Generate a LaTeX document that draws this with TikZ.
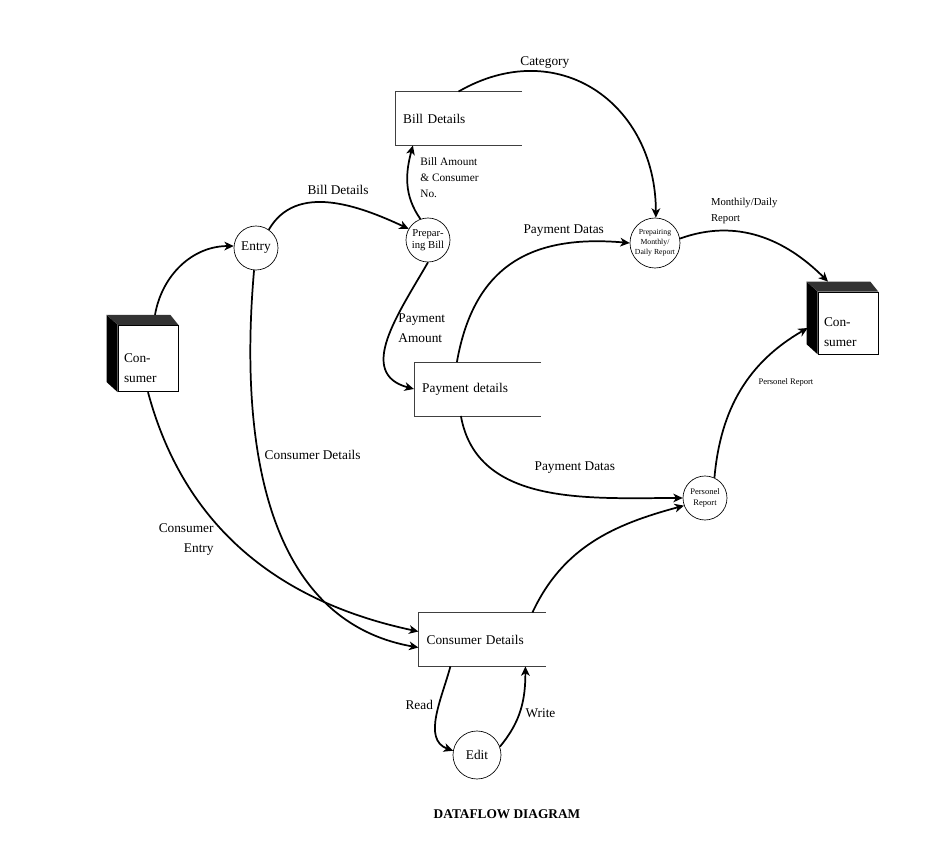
\documentclass[tikz,border=0pt]{standalone}
\usepackage{fontspec}
\setmainfont{Liberation Serif}
\usetikzlibrary{arrows.meta,positioning,calc}

\begin{document}
\begin{tikzpicture}[
    x=0.75pt, y=0.75pt,
    proc/.style={draw, circle, line width=0.5pt, inner sep=0pt, minimum size=33pt, align=center, font=\fontsize{10pt}{12pt}\selectfont},
    store/.style={minimum width=95pt, minimum height=40pt, inner sep=0pt, text width=83pt, align=left, font=\fontsize{10pt}{12pt}\selectfont},
    storeline/.style={line width=0.5pt, color=black!75},
    entity/.style={draw, line width=0.5pt, minimum width=45pt, minimum height=50pt, text width=36pt, text height=21pt, align=left, font=\fontsize{10pt}{15pt}\selectfont},
    flow/.style={-{Stealth[length=7pt,width=6.5pt,inset=2pt]}, line width=1.3pt},
    lbl/.style={font=\fontsize{10pt}{12pt}\selectfont, align=left, inner sep=1pt}
  ]
    \useasboundingbox (0,0) rectangle (939,853);

    % external entities
    \node[entity] (cons1) at (148,494.5) {Con-\\sumer};
    \node[entity, minimum height=46.5pt] (cons2) at (848,530) {Con-\\sumer};
    \foreach \ent in {cons1,cons2} {
      \fill[black] ($(\ent.north west)+(-11,10)$) -- (\ent.north west) -- (\ent.south west) -- ($(\ent.south west)+(-11,10)$) -- cycle;
      \fill[black!80] ($(\ent.north west)+(-11,10)$) -- ($(\ent.north east)+(-8,10)$) -- (\ent.north east) -- (\ent.north west) -- cycle;
    }

    % processes
    \node[proc] (entry) at (256,605) {Entry};
    \node[proc, font=\fontsize{8pt}{9pt}\selectfont] (prep) at (428,613) {Prepar-\\ing Bill};
    \node[proc, minimum size=37.5pt, font=\fontsize{5.8pt}{7.5pt}\selectfont] (mon) at (655,610) {Prepairing\\Monthly/\\Daily Report};
    \node[proc, font=\fontsize{6.4pt}{8.5pt}\selectfont] (pers) at (705,355) {Personel\\Report};
    \node[proc, minimum size=36pt] (edit) at (477,98) {Edit};

    % data stores
    \node[store] (bd) at (458.5,734.5) {Bill Details};
    \node[store] (pd) at (477.5,464) {Payment details};
    \node[store] (cd) at (482,213.5) {Consumer Details};
    \foreach \st in {bd,pd,cd}
      \draw[storeline] (\st.north east) -- (\st.north west) -- (\st.south west) -- (\st.south east);

    % flows
    \draw[flow] ($(cons1.north)+(7,10)$) to[out=80,in=180] (entry.175);
    \draw[flow] (entry.55) to[out=60,in=155] node[lbl, above=5pt, pos=0.55]{Bill Details} (prep.150);
    \draw[flow] (prep.110) to[out=125,in=-105] node[lbl, right=8pt, pos=0.58, font=\fontsize{8.5pt}{12pt}\selectfont]{Bill Amount\\\& Consumer\\No.} ($(bd.south west)+(18,0)$);
    \draw[flow] (bd.north) to[out=30,in=90,looseness=1.25] node[lbl, above=1pt, pos=0.3]{Category} (mon.88);
    \draw[flow] (prep.south) to[out=-120,in=165,looseness=1.2] node[lbl, right=3pt, pos=0.42, font=\fontsize{10pt}{15pt}\selectfont]{Payment\\Amount} (pd.west);
    \draw[flow] ($(pd.north west)+(43,0)$) to[out=80,in=175,looseness=1.2] node[lbl, above=4pt, pos=0.75]{Payment Datas} (mon.west);
    \draw[flow] (mon.10) to[out=20,in=135] node[lbl, above=5pt, pos=0.4, font=\fontsize{8pt}{12pt}\selectfont]{Monthily/Daily\\Report} ($(cons2.north)+(-20,10)$);
    \draw[flow] ($(pd.south west)+(47,0)$) to[out=-80,in=180] node[lbl, above=15pt, pos=0.62]{Payment Datas} (pers.west);
    \draw[flow] (pers.65) to[out=85,in=210] node[lbl, right=8pt, pos=0.55, font=\fontsize{6.4pt}{8pt}\selectfont]{Personel Report} ($(cons2.west)+(-10,-5)$);
    \draw[flow] ($(cd.north west)+(114,0)$) to[out=65,in=195] (pers.200);
    \draw[flow] (cons1.south) to[out=-75,in=168] node[lbl, left=12pt, align=right, pos=0.45, font=\fontsize{10pt}{15pt}\selectfont]{Consumer\\Entry} ($(cd.west)+(0,8)$);
    \draw[flow] (entry.265) to[out=-95,in=170] node[lbl, right=3pt, pos=0.38]{Consumer Details} ($(cd.west)+(0,-8)$);
    \draw[flow] ($(cd.south west)+(32,0)$) to[out=-105,in=160] node[lbl, left=3pt, pos=0.38]{Read} (edit.170);
    \draw[flow] (edit.20) to[out=50,in=-90] node[lbl, right=3pt, pos=0.45]{Write} ($(cd.south west)+(107,0)$);

    \node[font=\fontsize{10pt}{12pt}\selectfont\bfseries] (title) at (507,39) {DATAFLOW DIAGRAM};
  \end{tikzpicture}
\end{document}
